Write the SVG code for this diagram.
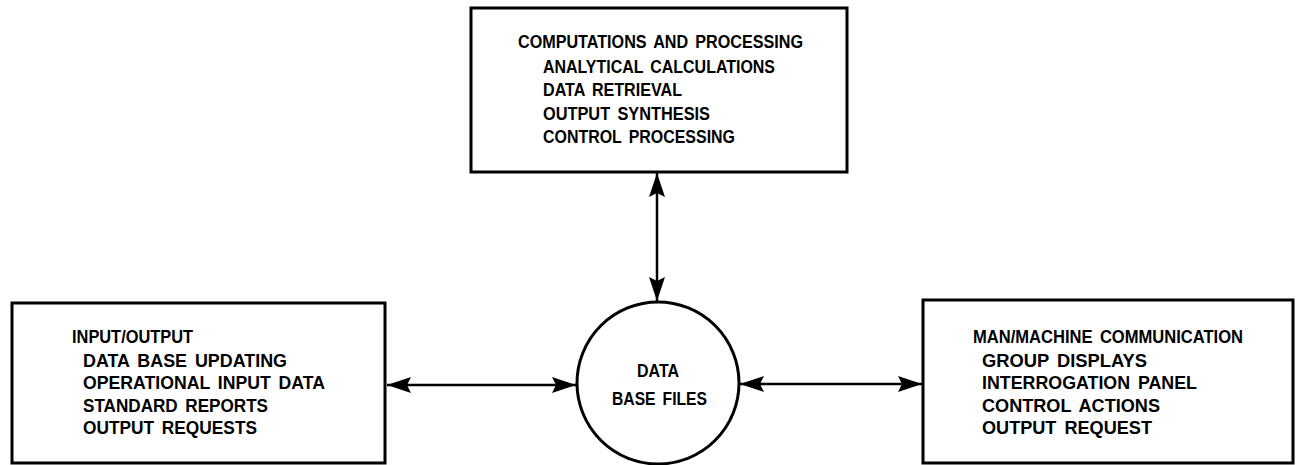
<svg xmlns="http://www.w3.org/2000/svg" width="1299" height="465" viewBox="0 0 1299 465">
<style>
.box{fill:#fff;stroke:#000;stroke-width:3}
.conn{stroke:#000;stroke-width:2.5;fill:none}
text{font-family:"Liberation Sans",Arial,sans-serif;font-weight:bold;font-size:18px;fill:#000;word-spacing:3px}
</style>
<defs>
<marker id="ah" viewBox="0 0 24 16" refX="24" refY="8" markerWidth="24" markerHeight="16" markerUnits="userSpaceOnUse" orient="auto-start-reverse">
<path d="M0,0 L24,8 L0,16 L4,8 Z" fill="#000"/>
</marker>
</defs>
<rect width="1299" height="465" fill="#fff"/>
<g id="connectors">
<line class="conn" x1="657" y1="173" x2="657" y2="301" marker-start="url(#ah)" marker-end="url(#ah)"/>
<line class="conn" x1="387" y1="385" x2="576" y2="385" marker-start="url(#ah)" marker-end="url(#ah)"/>
<line class="conn" x1="740" y1="384" x2="922" y2="384" marker-start="url(#ah)" marker-end="url(#ah)"/>
</g>
<g id="computations">
<rect class="box" x="471" y="8" width="376" height="164"/>
<text x="518" y="48" textLength="285" lengthAdjust="spacingAndGlyphs">COMPUTATIONS AND PROCESSING</text>
<text x="543" y="73" textLength="232" lengthAdjust="spacingAndGlyphs">ANALYTICAL CALCULATIONS</text>
<text x="543" y="96" textLength="139" lengthAdjust="spacingAndGlyphs">DATA RETRIEVAL</text>
<text x="543" y="120" textLength="167" lengthAdjust="spacingAndGlyphs">OUTPUT SYNTHESIS</text>
<text x="543" y="143" textLength="192" lengthAdjust="spacingAndGlyphs">CONTROL PROCESSING</text>
</g>
<g id="input-output">
<rect class="box" x="12" y="303" width="373" height="160"/>
<text x="72" y="343" textLength="121" lengthAdjust="spacingAndGlyphs">INPUT/OUTPUT</text>
<text x="83" y="367" textLength="204" lengthAdjust="spacingAndGlyphs">DATA BASE UPDATING</text>
<text x="83" y="389" textLength="242" lengthAdjust="spacingAndGlyphs">OPERATIONAL INPUT DATA</text>
<text x="83" y="412" textLength="185" lengthAdjust="spacingAndGlyphs">STANDARD REPORTS</text>
<text x="83" y="434" textLength="174" lengthAdjust="spacingAndGlyphs">OUTPUT REQUESTS</text>
</g>
<g id="data-base-files">
<circle cx="658" cy="383" r="81" fill="#fff" stroke="#000" stroke-width="3"/>
<text x="637" y="377" textLength="42" lengthAdjust="spacingAndGlyphs">DATA</text>
<text x="612" y="405" textLength="95" lengthAdjust="spacingAndGlyphs">BASE FILES</text>
</g>
<g id="man-machine">
<rect class="box" x="923" y="300" width="370" height="163"/>
<text x="973" y="343" textLength="270" lengthAdjust="spacingAndGlyphs">MAN/MACHINE COMMUNICATION</text>
<text x="982" y="367" textLength="165" lengthAdjust="spacingAndGlyphs">GROUP DISPLAYS</text>
<text x="982" y="389" textLength="215" lengthAdjust="spacingAndGlyphs">INTERROGATION PANEL</text>
<text x="982" y="412" textLength="178" lengthAdjust="spacingAndGlyphs">CONTROL ACTIONS</text>
<text x="982" y="434" textLength="170" lengthAdjust="spacingAndGlyphs">OUTPUT REQUEST</text>
</g>
</svg>
